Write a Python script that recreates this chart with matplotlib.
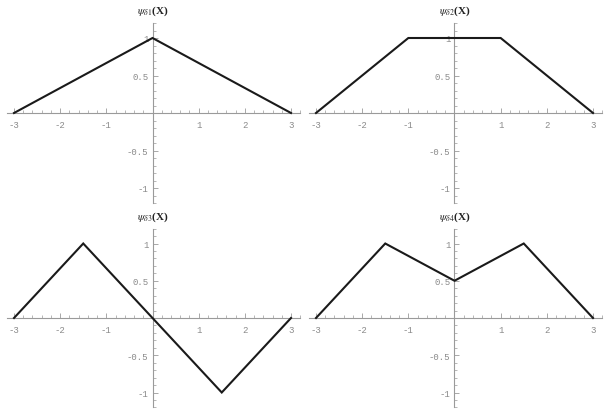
import matplotlib.pyplot as plt
import numpy as np
from matplotlib.ticker import MultipleLocator

plt.rcParams['mathtext.fontset'] = 'stix'

# piecewise linear wavelet-like functions
x1 = [-3, 0, 3]
y1 = [0, 1, 0]
x2 = [-3, -1, 1, 3]
y2 = [0, 1, 1, 0]
x3 = [-3, -1.5, 0, 1.5, 3]
y3 = [0, 1, 0, -1, 0]
x4 = [-3, -1.5, 0, 1.5, 3]
y4 = [0, 1, 0.5, 1, 0]

titles = [r'$\psi_{\delta 1}$(X)', r'$\psi_{\delta 2}$(X)',
          r'$\psi_{\delta 3}$(X)', r'$\psi_{\delta 4}$(X)']
xticks = [-3, -2, -1, 1, 2, 3]
yticks = [-1, -0.5, 0.5, 1]
yticklabels = ['-1', '-0.5', '0.5', '1']

W, H = 611, 410
fig = plt.figure(figsize=(W / 100, H / 100), dpi=100)

# pixel layout: (x of -3, x of 3, y of 0, pixels per y unit)
panels = [
    (14, 291, 114, 75.0),
    (316, 593, 114, 75.0),
    (14, 291, 319, 74.5),
    (316, 593, 319, 74.5),
]
data = [(x1, y1), (x2, y2), (x3, y3), (x4, y4)]

gray = '#9a9a9a'
for (xa, xb, y0, sy), (xs, ys), title in zip(panels, data, titles):
    sx = (xb - xa) / 6.0
    xlo, xhi = -3.15, 3.2
    ylo, yhi = -1.2, 1.2
    left = xa + (xlo + 3) * sx
    width = (xhi - xlo) * sx
    top = y0 - yhi * sy
    height = (yhi - ylo) * sy
    ax = fig.add_axes([left / W, (H - top - height) / H, width / W, height / H])
    ax.plot(xs, ys, color='#1a1a1a', linewidth=1.5, solid_joinstyle='miter',
            clip_on=False, zorder=3)
    ax.set_xlim(xlo, xhi)
    ax.set_ylim(ylo, yhi)
    ax.patch.set_alpha(0)

    for side in ['top', 'right']:
        ax.spines[side].set_visible(False)
    for side in ['left', 'bottom']:
        ax.spines[side].set_position('zero')
        ax.spines[side].set_color(gray)
        ax.spines[side].set_linewidth(0.8)

    ax.set_xticks(xticks)
    ax.set_xticklabels([str(t) for t in xticks])
    ax.set_yticks(yticks)
    ax.set_yticklabels(yticklabels)
    ax.xaxis.set_minor_locator(MultipleLocator(0.2))
    ax.yaxis.set_minor_locator(MultipleLocator(0.1))
    ax.tick_params(which='major', direction='in', length=3.5, width=0.6,
                   color=gray, labelcolor='#8a8a8a', labelsize=6.5)
    ax.tick_params(which='minor', direction='in', length=2, width=0.5, color=gray)
    ax.tick_params(axis='x', pad=5)
    ax.tick_params(axis='y', pad=3)
    for lab in ax.get_xticklabels() + ax.get_yticklabels():
        lab.set_family('Liberation Mono')

    ax.text(0, 1.37, title, ha='center', va='center', fontsize=8,
            family='Liberation Serif', fontweight='bold', color='#222222',
            clip_on=False)

fig.savefig('out.png', dpi=100)
